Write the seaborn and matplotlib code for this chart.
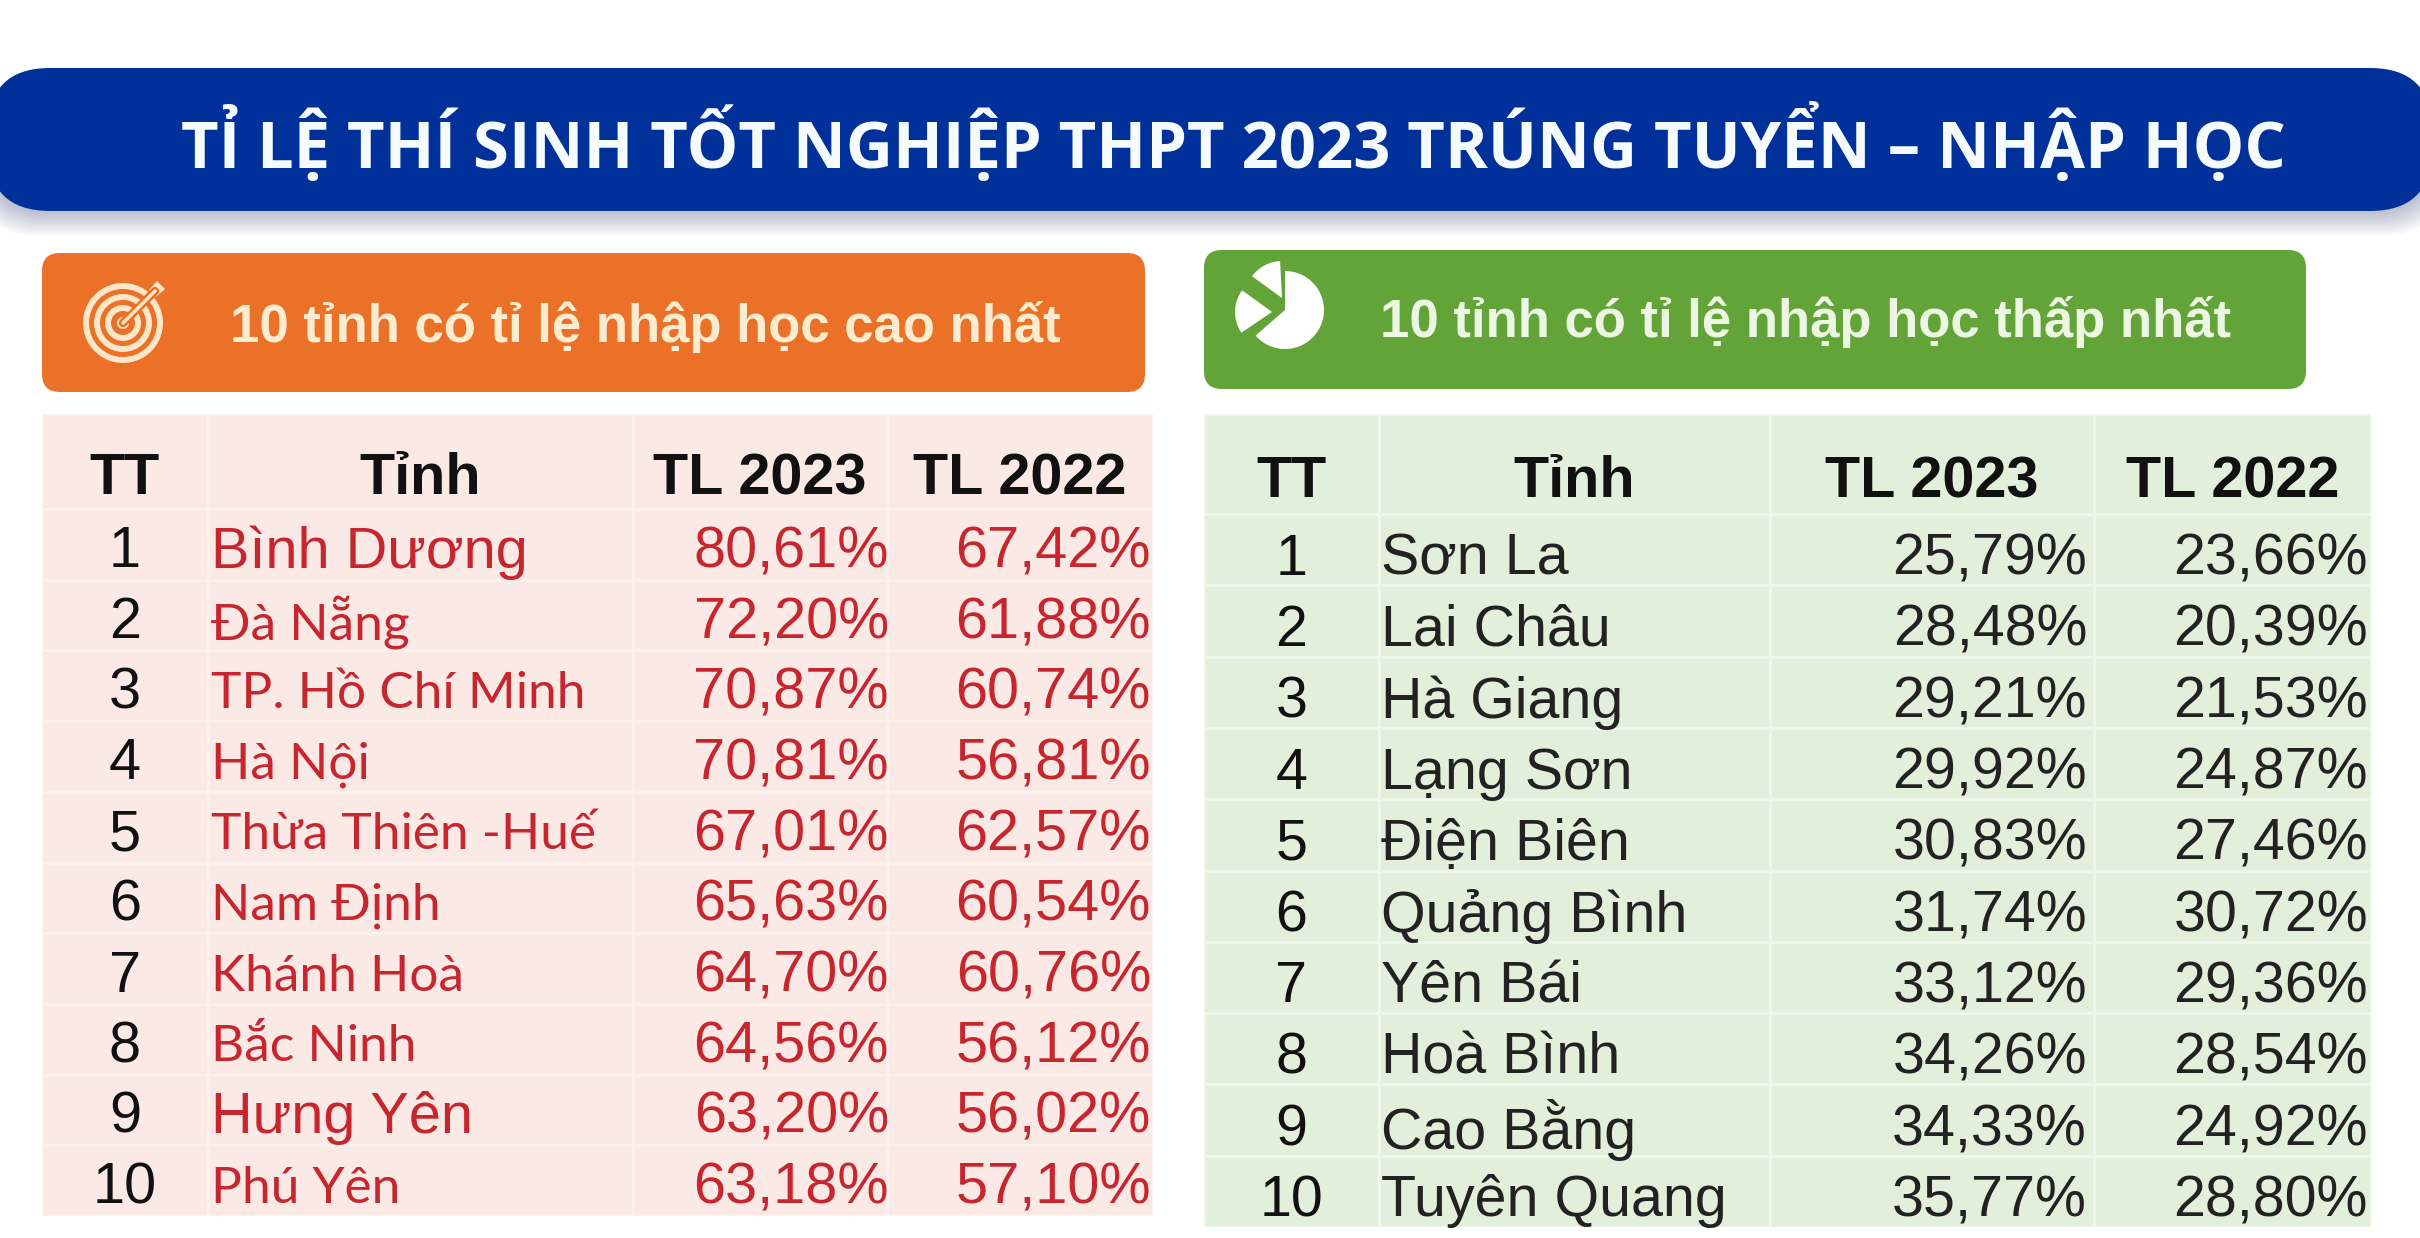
##### Table of admission rates per province, two side by side tables under a banner
import matplotlib.pyplot as plt
from matplotlib.colors import ListedColormap
from matplotlib.patches import FancyBboxPatch, Circle, Wedge, Polygon
import numpy as np
import seaborn as sns

sns.set_theme(style='white')
plt.rcParams['font.family'] = ['Liberation Sans', 'DejaVu Sans']

title = 'TỈ LỆ THÍ SINH TỐT NGHIỆP THPT 2023 TRÚNG TUYỂN – NHẬP HỌC'
sub_high = '10 tỉnh có tỉ lệ nhập học cao nhất'
sub_low = '10 tỉnh có tỉ lệ nhập học thấp nhất'
headers = ['TT', 'Tỉnh', 'TL 2023', 'TL 2022']
order = [1, 2, 3, 4, 5, 6, 7, 8, 9, 10]

prov_high = ['Bình Dương', 'Đà Nẵng', 'TP. Hồ Chí Minh', 'Hà Nội', 'Thừa Thiên -Huế',
             'Nam Định', 'Khánh Hoà', 'Bắc Ninh', 'Hưng Yên', 'Phú Yên']
rate23_high = [80.61, 72.20, 70.87, 70.81, 67.01, 65.63, 64.70, 64.56, 63.20, 63.18]
rate22_high = [67.42, 61.88, 60.74, 56.81, 62.57, 60.54, 60.76, 56.12, 56.02, 57.10]

prov_low = ['Sơn La', 'Lai Châu', 'Hà Giang', 'Lạng Sơn', 'Điện Biên',
            'Quảng Bình', 'Yên Bái', 'Hoà Bình', 'Cao Bằng', 'Tuyên Quang']
rate23_low = [25.79, 28.48, 29.21, 29.92, 30.83, 31.74, 33.12, 34.26, 34.33, 35.77]
rate22_low = [23.66, 20.39, 21.53, 24.87, 27.46, 30.72, 29.36, 28.54, 24.92, 28.80]

W, H = 2420, 1238
fig = plt.figure(figsize=(W/100, H/100), dpi=100, facecolor='white')

# background axes in pixel coords for the banners and icons
bg = fig.add_axes([0, 0, 1, 1])
bg.set_xlim(0, W)
bg.set_ylim(H, 0)
bg.axis('off')


def banner(x0, y0, x1, y1, r, color, **kw):
    p = FancyBboxPatch((x0+r, y0+r), x1-x0-2*r, y1-y0-2*r,
                       boxstyle='round,pad=%d,rounding_size=%d' % (r, r),
                       fc=color, ec='none', **kw)
    bg.add_patch(p)


def pct(vals):
    return [('%.2f%%' % v).replace('.', ',') for v in vals]


def col_heatmap(x0, x1, y0, y1, vals, labels, fill, line, size, color, weight='normal'):
    ax = fig.add_axes([x0/W, 1-y1/H, (x1-x0)/W, (y1-y0)/H])
    vals = np.array(vals, dtype=float).reshape(-1, 1)
    labels = np.array(labels, dtype=object).reshape(-1, 1)
    sns.heatmap(vals, annot=labels, fmt='', cmap=ListedColormap([fill]), cbar=False,
                linewidths=1.8, linecolor=line, xticklabels=False, yticklabels=False, ax=ax,
                annot_kws={'fontsize': size, 'color': color, 'fontweight': weight})
    return ax


def draw_table(edges, y_top, y_head, y_bot, names, r23, r22, fill, line, color, size,
               name_x, right1, right2, dy_head, dy_body):
    for i in range(4):
        ax = col_heatmap(edges[i], edges[i+1], y_top, y_head, [0], [headers[i]],
                         fill, line, 41.5, '#111111', 'bold')
        ax.texts[0].set_y(0.5 + dy_head/(y_head-y_top))
    cols = [order, [0]*10, r23, r22]
    labs = [order, names, pct(r23), pct(r22)]
    txt_col = ['#111111', color, color, color]
    axs = []
    for i in range(4):
        ax = col_heatmap(edges[i], edges[i+1], y_head, y_bot, cols[i], labs[i],
                         fill, line, size, txt_col[i])
        row_h = (y_bot-y_head)/10
        for t in ax.texts:
            t.set_y(t.get_position()[1] + dy_body/row_h)
        axs.append(ax)
    # names go left, percents go right
    for t in axs[1].texts:
        t.set_ha('left')
        t.set_x((name_x-edges[1])/(edges[2]-edges[1]))
    for ax, rx, i in ((axs[2], right1, 2), (axs[3], right2, 3)):
        for t in ax.texts:
            t.set_ha('right')
            t.set_x((rx-edges[i])/(edges[i+1]-edges[i]))
    return axs


# title banner with a soft shadow
for k in range(10):
    banner(-14-k, 76+k*0.5, W+14+k, 214+k*2.4, 62, '#3c4a78', alpha=0.035)
banner(-12, 68, W+12, 211, 62, '#00309a')
bg.text(1233, 144, title, color='#f6fbff', fontsize=46.9, fontweight='bold',
        family='Open Sans', ha='center', va='center')

# sub banners
banner(42, 253, 1145, 392, 18, '#ea7127')
banner(1204, 250, 2306, 389, 18, '#62a437')
bg.text(230, 327, sub_high, color='#fdeccf', fontsize=38, fontweight='bold', ha='left', va='center')
bg.text(1380, 322, sub_low, color='#ecf6e2', fontsize=38, fontweight='bold', ha='left', va='center')

# target icon
for rad, col in ((40, '#fde7c8'), (34, '#ea7127'), (29, '#fde7c8'), (23, '#ea7127'),
                 (18, '#fde7c8'), (12, '#ea7127'), (6, '#fde7c8')):
    bg.add_patch(Circle((123, 323), rad, fc=col, ec='none'))
bg.plot([123, 155], [323, 291], color='#ea7127', lw=6)
bg.plot([123, 155], [323, 291], color='#fde7c8', lw=2.5)
bg.add_patch(Polygon([[149, 290], [157, 281], [165, 289], [156, 297]], fc='#fde7c8', ec='none'))

# pie icon
bg.add_patch(Wedge((1285, 310), 39, -90, 139, fc='white', ec='none'))
bg.add_patch(Wedge((1282, 298), 37, 216, 267, fc='white', ec='none'))
bg.add_patch(Wedge((1272, 312), 37, 146, 216, fc='white', ec='none'))

# left table
axs_l = draw_table([42, 208, 633, 887, 1153], 414, 509, 1216, prov_high, rate23_high, rate22_high,
                   '#fbe9e5', '#fdf1ee', '#c8262f', 41.5, 211, 889, 1151, 18, 8)
# all but two of the names are in a narrower face
for i, t in enumerate(axs_l[1].texts):
    if i not in (0, 8):
        t.set_family('Lato')
        t.set_fontsize(37)

# right table
draw_table([1204, 1379, 1770, 2094, 2371], 414, 514, 1227, prov_low, rate23_low, rate22_low,
           '#e2efda', '#eef6e9', '#222222', 41.3, 1381, 2087, 2368, 18, 10)

fig.savefig('out.png', dpi=100)
